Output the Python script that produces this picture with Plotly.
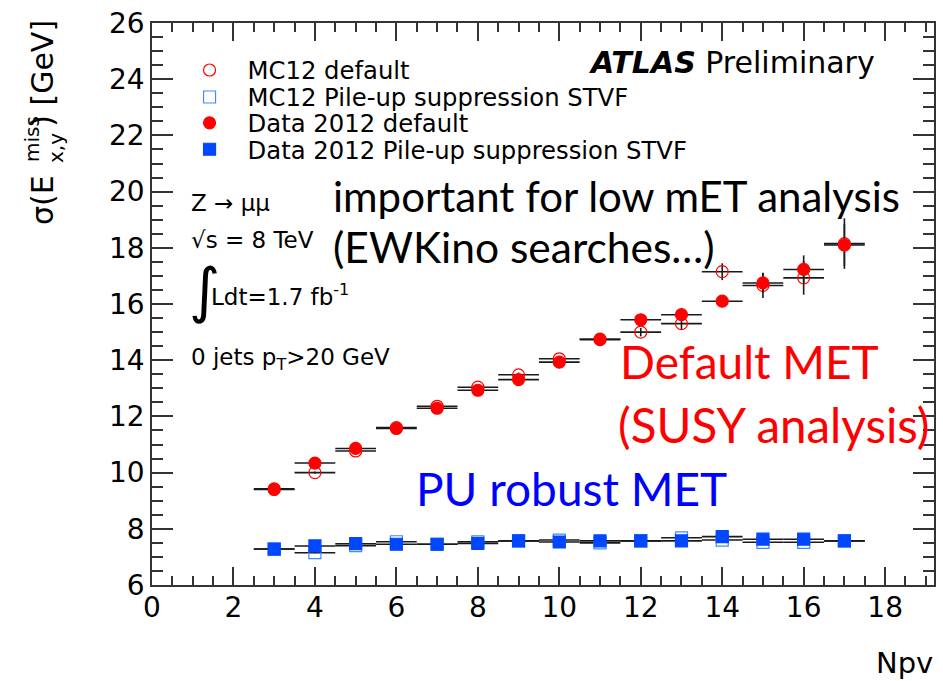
import plotly.graph_objects as go

# Number of primary vertices (bin centres) and half bin width
npv = [3, 4, 5, 6, 7, 8, 9, 10, 11, 12, 13, 14, 15, 16, 17]
half_bin = [0.5] * len(npv)

# sigma(E_x,y^miss) [GeV], default MET
mc_default = [9.42, 10.0, 10.77, 11.6, 12.36, 13.04, 13.48, 14.05, 14.75, 15.0, 15.3, 17.15, 16.66, 16.93, 18.15]
mc_default_err = [0.03, 0.04, 0.04, 0.05, 0.06, 0.07, 0.08, 0.1, 0.12, 0.15, 0.2, 0.3, 0.45, 0.6, 0.9]
data_default = [9.4, 10.34, 10.86, 11.57, 12.29, 12.93, 13.31, 13.93, 14.73, 15.44, 15.62, 16.1, 16.75, 17.23, 18.1]
data_default_err = [0.03, 0.03, 0.04, 0.04, 0.05, 0.05, 0.06, 0.07, 0.08, 0.1, 0.12, 0.2, 0.35, 0.5, 0.75]

# sigma(E_x,y^miss) [GeV], pile-up suppression STVF
mc_stvf = [7.28, 7.15, 7.4, 7.54, 7.45, 7.54, 7.57, 7.6, 7.5, 7.57, 7.68, 7.6, 7.52, 7.52, 7.57]
mc_stvf_err = [0.02, 0.02, 0.02, 0.02, 0.02, 0.03, 0.03, 0.03, 0.03, 0.04, 0.04, 0.05, 0.06, 0.08, 0.1]
data_stvf = [7.28, 7.39, 7.47, 7.45, 7.45, 7.48, 7.57, 7.53, 7.57, 7.57, 7.57, 7.72, 7.63, 7.63, 7.57]
data_stvf_err = [0.02, 0.02, 0.02, 0.02, 0.02, 0.02, 0.02, 0.03, 0.03, 0.03, 0.04, 0.05, 0.06, 0.07, 0.08]

ROOT_FONT = "DejaVu Sans"
NOTE_FONT = "Lato"
RED = "#ff0000"
BLUE_DATA = "#0047ff"
BLUE_MC = "#3d8cff"

fig = go.Figure()


def add_series(name, y, yerr, symbol, color, legend):
    fig.add_trace(go.Scatter(
        x=npv, y=y, name=name, mode="markers", legend=legend,
        marker=dict(symbol=symbol, size=12, color=color,
                    line=dict(color=color, width=1.2)),
        error_x=dict(type="data", array=half_bin, color="#1a1a1a", thickness=1.6, width=0),
        error_y=dict(type="data", array=yerr, color="#1a1a1a", thickness=1.6, width=0),
    ))


# one single-entry legend per series so each row can be placed exactly
add_series("MC12 default", mc_default, mc_default_err, "circle-open", RED, "legend2")
add_series("MC12 Pile-up suppression STVF", mc_stvf, mc_stvf_err, "square-open", BLUE_MC, "legend3")
add_series("Data 2012 default", data_default, data_default_err, "circle", RED, "legend4")
add_series("Data 2012 Pile-up suppression STVF", data_stvf, data_stvf_err, "square", BLUE_DATA, "legend5")

axis_common = dict(
    showline=True, linecolor="#333333", linewidth=1.5, mirror="ticks",
    ticks="inside", tickcolor="#333333", tickwidth=1.5,
    showgrid=False, zeroline=False,
    tickfont=dict(family=ROOT_FONT, size=28, color="black"),
)

fig.update_xaxes(range=[0, 19.2], dtick=2, tick0=0, ticklen=18, ticklabelstandoff=-3,
                 minor=dict(dtick=0.5, ticklen=9, ticks="inside", tickcolor="#333333", tickwidth=1.5),
                 **axis_common)
fig.update_yaxes(range=[6, 26], dtick=2, tick0=6, ticklen=21,
                 minor=dict(dtick=0.5, ticklen=11, ticks="inside", tickcolor="#333333", tickwidth=1.5),
                 **axis_common)

legend_style = dict(
    x=0.025, xanchor="left", yanchor="middle", itemwidth=66,
    bgcolor="rgba(0,0,0,0)", borderwidth=0,
    font=dict(family=ROOT_FONT, size=24.3, color="black"),
)
legend_rows = [0.916, 0.868, 0.822, 0.775]

annotations = []


def note(text, x, y, size, color="black", family=NOTE_FONT, xanchor="left"):
    annotations.append(dict(text=text, x=x, y=y, xref="x", yref="y", showarrow=False,
                            xanchor=xanchor, yanchor="middle",
                            font=dict(family=family, size=size, color=color)))


# Experiment label and analysis details
note("<b><i>ATLAS</i></b> Preliminary", 10.68, 24.6, 30, family=ROOT_FONT)
note("Z → μμ", 0.9, 19.6, 23, family=ROOT_FONT)
note("√s = 8 TeV", 0.9, 18.28, 23, family=ROOT_FONT)
note("∫", 0.85, 16.5, 60, family=ROOT_FONT)
note("Ldt=1.7 fb<sup>-1</sup>", 1.4, 16.32, 23, family=ROOT_FONT)
note("0 jets p<sub>T</sub>&gt;20 GeV", 0.9, 14.05, 23, family=ROOT_FONT)

# Commentary
note("important for low mET analysis", 4.4, 19.85, 42)
note("(EWKino searches…)", 4.4, 18.05, 42.5)
note("Default MET", 11.45, 13.95, 46, color=RED)
note("(SUSY analysis)", 11.38, 11.72, 47.5, color=RED)
note("PU robust MET", 6.44, 9.42, 46, color="#0000ff")


def paper_note(text, px, py, size, xanchor, yanchor, angle=0):
    # positions given in canvas pixels, converted to paper units of the plot area
    annotations.append(dict(text=text, x=(px - 152) / 784, y=(585 - py) / 563,
                            xref="paper", yref="paper", showarrow=False,
                            xanchor=xanchor, yanchor=yanchor, textangle=angle,
                            font=dict(family=ROOT_FONT, size=size, color="black")))


# y-axis title built from pieces so that the super- and subscript stack
paper_note("σ(E", 42, 226, 30, "center", "bottom", -90)
paper_note("miss", 31, 163, 20, "center", "bottom", -90)
paper_note("x,y", 56, 164, 20, "center", "bottom", -90)
paper_note(") [GeV]", 42, 17, 30, "center", "top", -90)
# x-axis title
paper_note("Npv", 937, 663, 29, "right", "middle")

layout_legends = {}
for i, yv in enumerate(legend_rows):
    layout_legends[f"legend{i + 2}"] = dict(y=yv, **legend_style)

fig.update_layout(
    width=943, height=681, autosize=False,
    margin=dict(l=152, r=7, t=22, b=96),
    plot_bgcolor="white", paper_bgcolor="white",
    annotations=annotations,
    **layout_legends,
)

fig.write_html("out.html")
